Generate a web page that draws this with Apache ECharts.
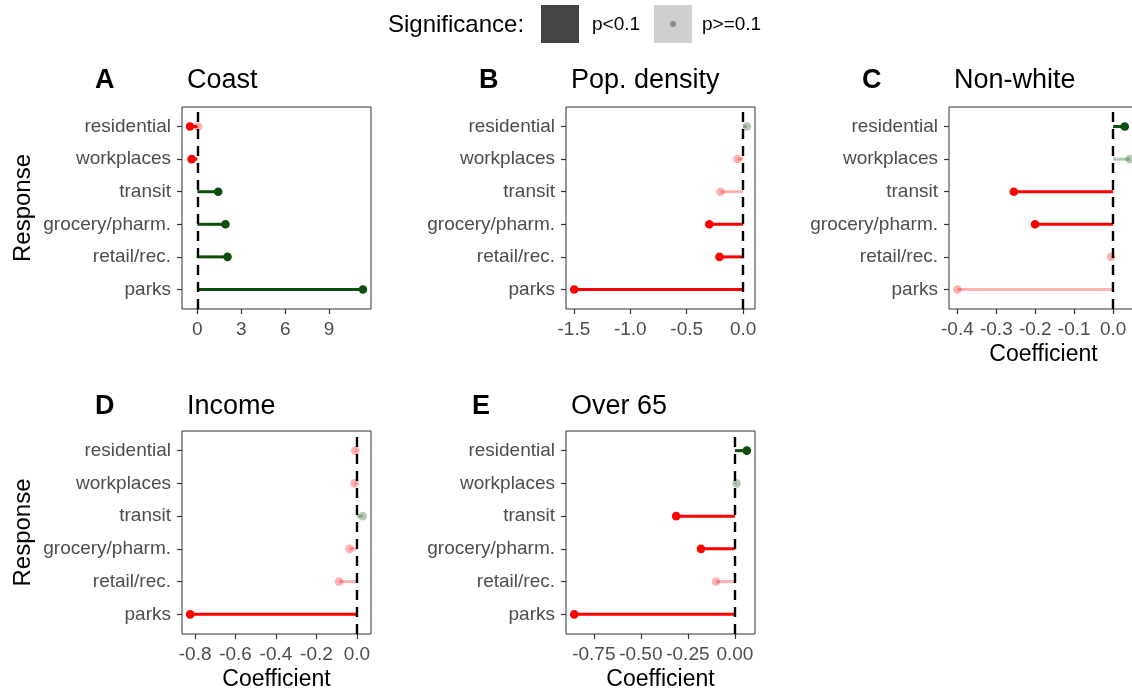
<!DOCTYPE html>
<html>
<head>
<meta charset="utf-8">
<script src="https://cdn.jsdelivr.net/npm/echarts@6/dist/echarts.min.js"></script>
<style>
  html, body { margin: 0; padding: 0; background: #fff; }
  #main { width: 1132px; height: 693px; }
</style>
</head>
<body>
<div id="main"></div>
<script>
// rows, bottom to top like ggplot (parks = 1 ... residential = 6)
const responses = ['parks', 'retail/rec.', 'grocery/pharm.', 'transit', 'workplaces', 'residential'];

// coefficients per panel, same order as responses
const coastVals   = [11.31, 2.06, 1.92, 1.42, -0.39, -0.50];
const coastSig    = [1, 1, 1, 1, 1, 1];
const coastExtraVal = 0.06;   // second faint (red) point on residential row
const densityVals = [-1.497, -0.21, -0.30, -0.20, -0.05, 0.033];
const densitySig  = [1, 1, 1, 0, 0, 0];
const nonwhiteVals = [-0.40, -0.005, -0.2005, -0.255, 0.043, 0.030];
const nonwhiteSig  = [0, 0, 1, 1, 0, 1];
const incomeVals  = [-0.8245, -0.088, -0.036, 0.029, -0.011, -0.008];
const incomeSig   = [1, 0, 0, 0, 0, 0];
const over65Vals  = [-0.854, -0.10, -0.18, -0.312, 0.009, 0.0635];
const over65Sig   = [1, 0, 1, 1, 0, 1];

// x tick values and labels
const coastTicks = [0, 3, 6, 9];
const coastTickLabels = ['0', '3', '6', '9'];
const densityTicks = [-1.5, -1.0, -0.5, 0.0];
const densityTickLabels = ['-1.5', '-1.0', '-0.5', '0.0'];
const nonwhiteTicks = [-0.4, -0.3, -0.2, -0.1, 0.0];
const nonwhiteTickLabels = ['-0.4', '-0.3', '-0.2', '-0.1', '0.0'];
const incomeTicks = [-0.8, -0.6, -0.4, -0.2, 0.0];
const incomeTickLabels = ['-0.8', '-0.6', '-0.4', '-0.2', '0.0'];
const over65Ticks = [-0.75, -0.5, -0.25, 0.0];
const over65TickLabels = ['-0.75', '-0.50', '-0.25', '0.00'];

const RED = '#ff0000';
const GREEN = '#0b4d0b';
const FONT = "'Liberation Sans', Arial, sans-serif";

const chart = echarts.init(document.getElementById('main'));

const panels = [
  { letter: 'A', title: 'Coast', vals: coastVals, sig: coastSig, ticks: coastTicks, labels: coastTickLabels,
    min: -1.05, max: 11.86, grid: { left: 182, top: 107, width: 189, height: 202 }, yName: true, xName: false, lx: 90, ty: 62 },
  { letter: 'B', title: 'Pop. density', vals: densityVals, sig: densitySig, ticks: densityTicks, labels: densityTickLabels,
    min: -1.57, max: 0.105, grid: { left: 566, top: 107, width: 189, height: 202 }, yName: false, xName: false, lx: 474, ty: 62 },
  { letter: 'C', title: 'Non-white', vals: nonwhiteVals, sig: nonwhiteSig, ticks: nonwhiteTicks, labels: nonwhiteTickLabels,
    min: -0.4216, max: 0.064, grid: { left: 949, top: 107, width: 189, height: 202 }, yName: false, xName: true, lx: 857, ty: 62 },
  { letter: 'D', title: 'Income', vals: incomeVals, sig: incomeSig, ticks: incomeTicks, labels: incomeTickLabels,
    min: -0.865, max: 0.07, grid: { left: 182, top: 431, width: 189, height: 203 }, yName: true, xName: true, lx: 90, ty: 388 },
  { letter: 'E', title: 'Over 65', vals: over65Vals, sig: over65Sig, ticks: over65Ticks, labels: over65TickLabels,
    min: -0.898, max: 0.107, grid: { left: 566, top: 431, width: 189, height: 203 }, yName: false, xName: true, lx: 467, ty: 388 }
];

function lollipop(params, api) {
  const v = api.value(0);
  const row = api.value(1);
  const sig = api.value(2);
  const neg = api.value(3);
  const p0 = api.coord([0, row]);
  const p1 = api.coord([v, row]);
  const color = neg ? RED : GREEN;
  const op = sig ? 1 : 0.3;
  return {
    type: 'group',
    children: [
      { type: 'line', shape: { x1: p0[0], y1: p0[1], x2: p1[0], y2: p1[1] },
        style: { stroke: color, lineWidth: 3, opacity: op } },
      { type: 'circle', shape: { cx: p1[0], cy: p1[1], r: 4.3 },
        style: { fill: color, opacity: op } }
    ]
  };
}

const grids = [], xAxes = [], yAxes = [], series = [], titles = [];

panels.forEach((p, i) => {
  grids.push(Object.assign({ show: true, borderColor: '#333', borderWidth: 1, backgroundColor: '#fff',
    outerBoundsMode: 'none', containLabel: false }, p.grid));
  xAxes.push({
    type: 'value', gridIndex: i, min: p.min, max: p.max,
    name: p.xName ? 'Coefficient' : '', nameLocation: 'middle', nameGap: 34,
    nameTextStyle: { fontSize: 23, color: '#000', fontFamily: FONT },
    axisLine: { show: false, onZero: false },
    splitLine: { show: false },
    axisTick: { show: true, customValues: p.ticks, length: 5, lineStyle: { color: '#333', width: 1.2 } },
    axisLabel: {
      customValues: p.ticks, margin: 11, fontSize: 19, color: '#4d4d4d', fontFamily: FONT,
      formatter: (val) => {
        const k = p.ticks.findIndex(t => Math.abs(t - val) < 1e-9);
        return k >= 0 ? p.labels[k] : '';
      }
    }
  });
  yAxes.push({
    type: 'value', gridIndex: i, min: 0.4, max: 6.6,
    name: p.yName ? 'Response' : '', nameLocation: 'middle', nameGap: 147, nameRotate: 90,
    nameTextStyle: { fontSize: 24, color: '#000', fontFamily: FONT },
    axisLine: { show: false, onZero: false },
    splitLine: { show: false },
    axisTick: { show: true, customValues: [1, 2, 3, 4, 5, 6], length: 5, lineStyle: { color: '#333', width: 1.2 } },
    axisLabel: {
      customValues: [1, 2, 3, 4, 5, 6], margin: 11, fontSize: 19, color: '#4d4d4d', fontFamily: FONT,
      formatter: (val) => responses[Math.round(val) - 1] || ''
    }
  });
  const data = p.vals.map((v, k) => [v, k + 1, p.sig[k], v < 0 ? 1 : 0]);
  if (p.letter === 'A') data.push([coastExtraVal, 6, 0, 1]);
  series.push({
    type: 'custom', xAxisIndex: i, yAxisIndex: i, clip: false,
    renderItem: lollipop, data: data,
    markLine: {
      silent: true, symbol: 'none', label: { show: false },
      lineStyle: { color: '#000', type: [10, 7], width: 2.4 },
      data: [{ xAxis: 0 }]
    },
    z: 3
  });
  titles.push({ text: p.letter, left: p.lx, top: p.ty,
    textStyle: { fontSize: 27, fontWeight: 'bold', color: '#000', fontFamily: FONT } });
  titles.push({ text: p.title, left: p.grid.left, top: p.ty,
    textStyle: { fontSize: 27, fontWeight: 'normal', color: '#000', fontFamily: FONT } });
});

const option = {
  backgroundColor: '#fff',
  animation: false,
  title: titles,
  grid: grids,
  xAxis: xAxes,
  yAxis: yAxes,
  series: series,
  graphic: [
    { type: 'text', left: 388, top: 13, style: { text: 'Significance:', fill: '#000', font: '24px ' + FONT } },
    { type: 'rect', shape: { x: 541, y: 5, width: 38, height: 38 }, style: { fill: '#454545' } },
    { type: 'text', left: 592, top: 15, style: { text: 'p<0.1', fill: '#000', font: '19px ' + FONT } },
    { type: 'rect', shape: { x: 654, y: 5, width: 38, height: 38 }, style: { fill: '#cfcfcf' } },
    { type: 'circle', shape: { cx: 673, cy: 24, r: 3 }, style: { fill: '#8c8c8c' } },
    { type: 'text', left: 702, top: 15, style: { text: 'p>=0.1', fill: '#000', font: '19px ' + FONT } }
  ]
};

chart.setOption(option);
</script>
</body>
</html>
